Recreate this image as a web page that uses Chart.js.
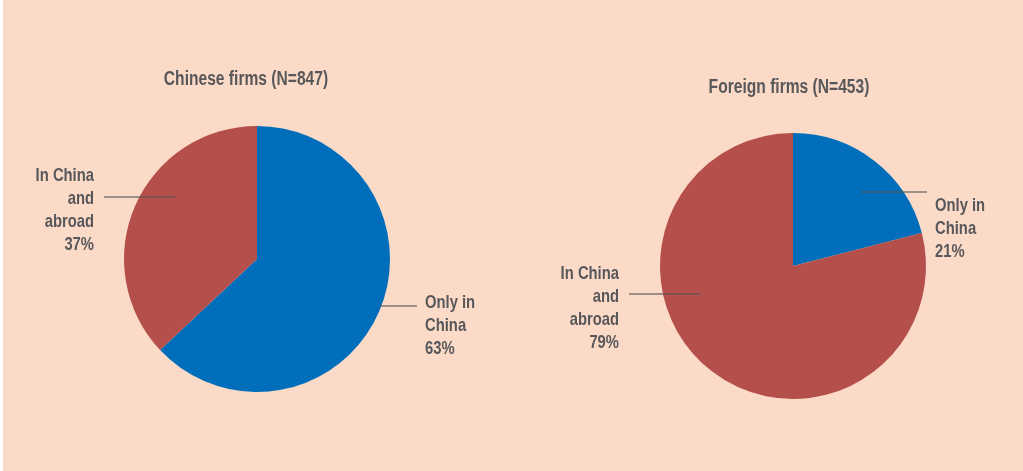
<!DOCTYPE html>
<html>
<head>
<meta charset="utf-8">
<script src="https://cdn.jsdelivr.net/npm/chart.js@4.4.1/dist/chart.umd.min.js"></script>
<style>
  html, body { margin: 0; padding: 0; background: #ffffff; }
  #page { position: absolute; left: 3px; top: 0; width: 1020px; height: 471px; background: #fbdac8; overflow: hidden; }
  .box { position: absolute; top: 0; height: 471px; }
</style>
</head>
<body>
<div id="page">
  <div class="box" style="left:-3px;width:512px"><canvas id="chinese" width="512" height="471"></canvas></div>
  <div class="box" style="left:509px;width:511px"><canvas id="foreign" width="511" height="471"></canvas></div>
</div>
<script>
// data
const categories = ['Only in China', 'In China and abroad'];
const chineseValues = [63, 37];
const foreignValues = [21, 79];
const titles = ['Chinese firms (N=847)', 'Foreign firms (N=453)'];
const chineseLabels = [['Only in', 'China', '63%'], ['In China', 'and', 'abroad', '37%']];
const foreignLabels = [['Only in', 'China', '21%'], ['In China', 'and', 'abroad', '79%']];

const colors = ['#006eba', '#b54f4b'];
const textColor = '#58585a';
const font = '"Liberation Sans", Arial, sans-serif';
const squeeze = 0.8; // condensed look of the original typeface

// label placement relative to the pie centre (annotation layout only)
const chineseLayout = {
  title: { dx: -11, dy: -179 },
  labels: [
    { align: 'left', tx: 168, ty: 44, lx1: 123, lx2: 160, ly: 47 },
    { align: 'right', tx: -163, ty: -83, lx1: -82, lx2: -153, ly: -62 }
  ]
};
const foreignLayout = {
  title: { dx: -4, dy: -178 },
  labels: [
    { align: 'left', tx: 142, ty: -60, lx1: 69, lx2: 134, ly: -74 },
    { align: 'right', tx: -174, ty: 8, lx1: -93, lx2: -164, ly: 28 }
  ]
};

function condensedText(ctx, text, x, y) {
  ctx.save();
  ctx.translate(x, y);
  ctx.scale(squeeze, 1);
  ctx.fillText(text, 0, 0);
  ctx.restore();
}

const pieLabels = {
  id: 'pieLabels',
  afterDraw(chart, args, opts) {
    const arc = chart.getDatasetMeta(0).data[0];
    const cx = arc.x, cy = arc.y;
    const ctx = chart.ctx;
    ctx.save();
    ctx.fillStyle = textColor;
    ctx.textBaseline = 'middle';
    ctx.font = 'bold 19.5px ' + font;
    ctx.textAlign = 'center';
    condensedText(ctx, opts.title, cx + opts.layout.title.dx, cy + opts.layout.title.dy);

    ctx.font = 'bold 18.5px ' + font;
    opts.layout.labels.forEach((l, i) => {
      ctx.strokeStyle = 'rgba(85,85,85,0.75)';
      ctx.lineWidth = 1.3;
      ctx.beginPath();
      ctx.moveTo(cx + l.lx1, cy + l.ly);
      ctx.lineTo(cx + l.lx2, cy + l.ly);
      ctx.stroke();
      ctx.textAlign = l.align;
      opts.labels[i].forEach((line, j) => {
        condensedText(ctx, line, cx + l.tx, cy + l.ty + j * 23);
      });
    });
    ctx.restore();
  }
};

function makePie(id, values, title, labels, layout, padding) {
  return new Chart(document.getElementById(id), {
    type: 'pie',
    data: {
      labels: categories,
      datasets: [{
        data: values,
        backgroundColor: colors,
        borderWidth: 0,
        hoverOffset: 0
      }]
    },
    options: {
      responsive: false,
      maintainAspectRatio: false,
      animation: false,
      events: [],
      layout: { padding: padding },
      plugins: {
        legend: { display: false },
        tooltip: { enabled: false },
        title: { display: false },
        pieLabels: { title: title, labels: labels, layout: layout }
      }
    },
    plugins: [pieLabels]
  });
}

makePie('chinese', chineseValues, titles[0], chineseLabels, chineseLayout,
  { left: 124, right: 122, top: 126, bottom: 79 });
makePie('foreign', foreignValues, titles[1], foreignLabels, foreignLayout,
  { left: 148, right: 97, top: 133, bottom: 72 });
</script>
</body>
</html>
